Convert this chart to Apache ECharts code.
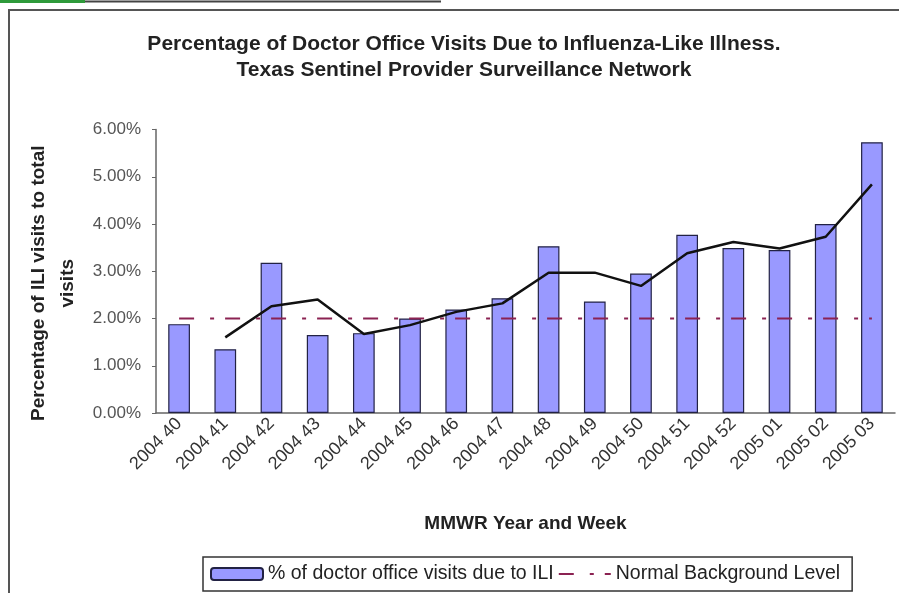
<!DOCTYPE html>
<html>
<head>
<meta charset="utf-8">
<script src="https://cdn.jsdelivr.net/npm/echarts@6/dist/echarts.min.js"></script>
<style>
  html, body { margin: 0; padding: 0; background: #fff; }
  #containerC { width: 899px; height: 593px; }
</style>
</head>
<body>
<div id="containerC"></div>
<script>
// week labels (MMWR year + week)
var weeks = ['2004 40', '2004 41', '2004 42', '2004 43', '2004 44', '2004 45', '2004 46', '2004 47',
             '2004 48', '2004 49', '2004 50', '2004 51', '2004 52', '2005 01', '2005 02', '2005 03'];
// % of doctor office visits due to ILI
var iliPct = [1.88, 1.35, 3.18, 1.65, 1.69, 2.00, 2.19, 2.43, 3.53, 2.36, 2.95, 3.77, 3.49, 3.45, 4.00, 5.73];
// black trend line (no point at the first week)
var trendPct = ['-', 1.60, 2.26, 2.40, 1.67, 1.86, 2.14, 2.32, 2.97, 2.97, 2.69, 3.38, 3.62, 3.48, 3.73, 4.84];
// normal background level
var baseline = [2, 2, 2, 2, 2, 2, 2, 2, 2, 2, 2, 2, 2, 2, 2, 2];
var yTicks = [0, 6, 1]; // min, max, interval

var FONT = "'Liberation Sans', Arial, sans-serif";

var dom = document.getElementById('containerC');
var myChart = echarts.init(dom, null, { renderer: 'canvas' });

var option = {
    backgroundColor: '#fff',
    animation: false,
    textStyle: { fontFamily: FONT },
    title: {
        text: 'Percentage of Doctor Office Visits Due to Influenza-Like Illness.\nTexas Sentinel Provider Surveillance Network',
        left: 459,
        top: 26,
        textAlign: 'center',
        textStyle: { fontSize: 21, fontWeight: 'bold', color: '#222', lineHeight: 26, fontFamily: FONT }
    },
    graphic: [
        { type: 'rect', shape: { x: 9, y: 10, width: 900, height: 600 },
          style: { fill: 'none', stroke: '#555', lineWidth: 2 }, z: -1 },
        { type: 'rect', shape: { x: 0, y: 0, width: 85, height: 3 }, style: { fill: '#2e9a3a' } },
        { type: 'line', shape: { x1: 85, y1: 1.5, x2: 441, y2: 1.5 }, style: { stroke: '#444', lineWidth: 2 } }
    ],
    legend: {
        data: [
            '% of doctor office visits due to ILI',
            { name: 'Normal Background Level', itemStyle: { opacity: 0, color: 'rgba(0,0,0,0)', borderWidth: 0 } }
        ],
        left: 203,
        top: 557,
        itemWidth: 52,
        itemHeight: 12,
        itemGap: 4,
        padding: [7, 12, 7, 7],
        borderColor: '#333',
        borderWidth: 1.5,
        textStyle: { fontSize: 19.5, color: '#222', fontFamily: FONT }
    },
    grid: { left: 156, right: 4, top: 129.5, bottom: 180 },
    xAxis: {
        type: 'category',
        data: weeks,
        name: 'MMWR Year and Week',
        nameLocation: 'middle',
        nameGap: 101,
        nameTextStyle: { fontSize: 19, fontWeight: 'bold', color: '#222' },
        axisLine: { lineStyle: { color: '#666', width: 1.5 } },
        axisTick: { length: 5, lineStyle: { color: '#666' } },
        axisLabel: { rotate: 45, fontSize: 18, color: '#333', margin: 8 }
    },
    yAxis: {
        type: 'value',
        min: yTicks[0],
        max: yTicks[1],
        interval: yTicks[2],
        name: 'Percentage of ILI visits to total\nvisits',
        nameLocation: 'middle',
        nameGap: 73,
        nameTextStyle: { fontSize: 19, fontWeight: 'bold', color: '#222', lineHeight: 29, padding: [0, 24, 0, 0] },
        axisLine: { show: true, lineStyle: { color: '#666', width: 1.5 } },
        axisTick: { show: true, length: 4, lineStyle: { color: '#666' } },
        splitLine: { show: false },
        axisLabel: {
            fontSize: 17, color: '#555', margin: 15,
            formatter: function (v) { return v.toFixed(2) + '%'; }
        }
    },
    series: [
        {
            name: '% of doctor office visits due to ILI',
            type: 'bar',
            data: iliPct,
            barWidth: '47%',
            itemStyle: { color: '#9999ff', borderColor: '#222244', borderWidth: 1.2 }
        },
        {
            name: 'Normal Background Level',
            type: 'line',
            data: baseline,
            symbol: 'none',
            lineStyle: { color: '#8b2252', width: 2, type: [15, 16, 4, 11] },
            itemStyle: { color: '#8b2252' },
            z: 3
        },
        {
            name: 'trend',
            type: 'line',
            data: trendPct,
            symbol: 'none',
            lineStyle: { color: '#111', width: 2.5 },
            itemStyle: { color: '#111' },
            z: 4
        }
    ]
};

if (option && typeof option === 'object') {
    myChart.setOption(option);
}

window.addEventListener('resize', myChart.resize);
</script>
</body>
</html>
